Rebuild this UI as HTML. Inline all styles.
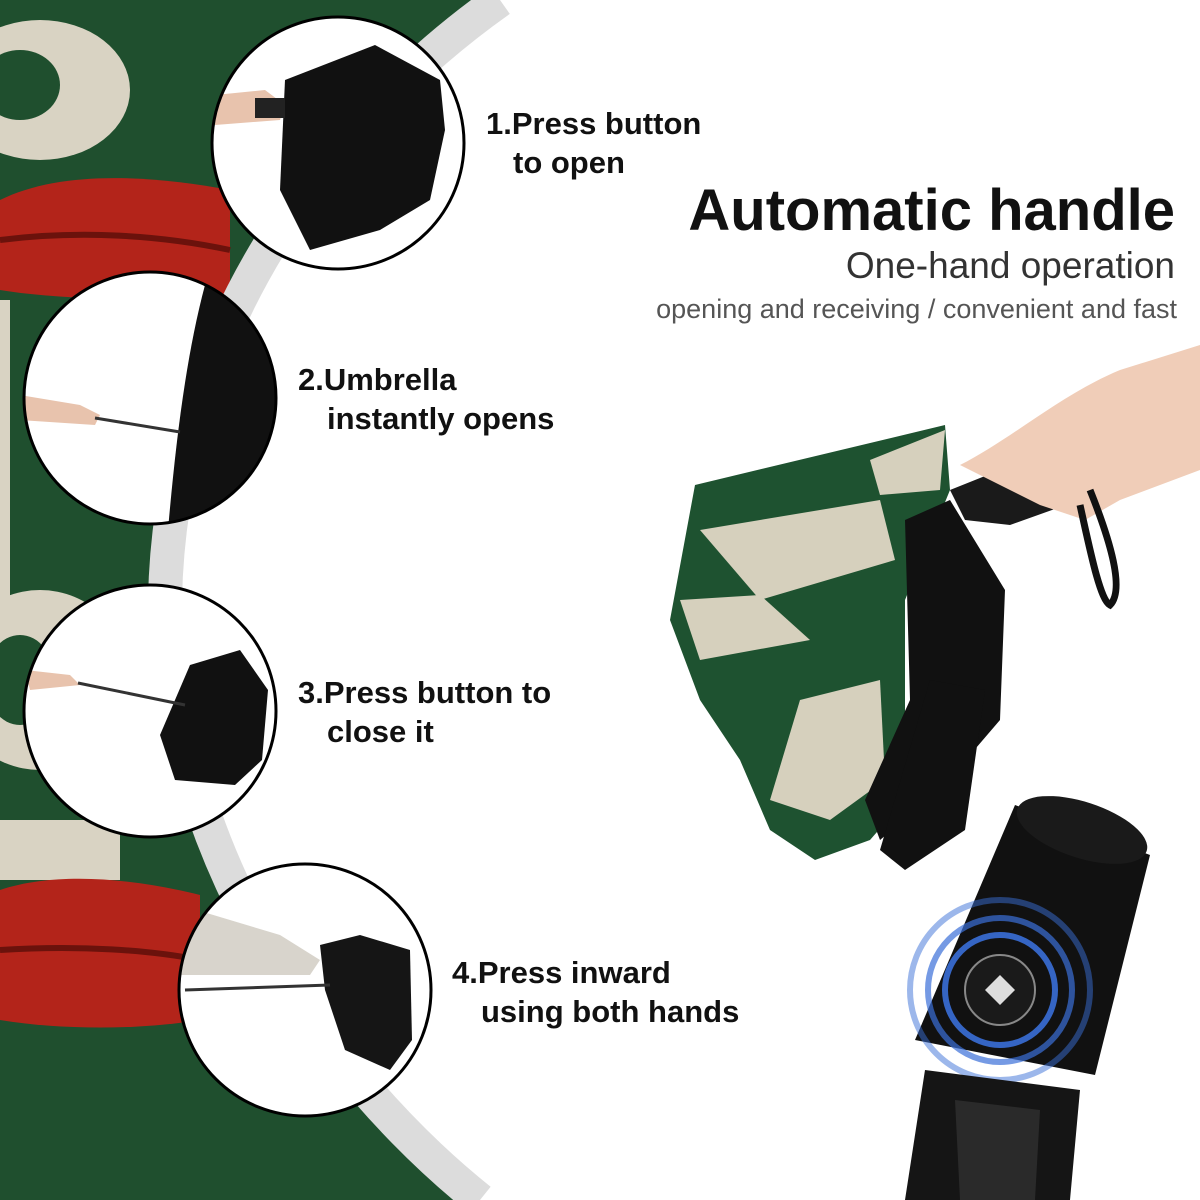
<!DOCTYPE html>
<html><head><meta charset="utf-8"><style>
html,body{margin:0;padding:0;width:1200px;height:1200px;overflow:hidden;background:#fff}
svg{display:block}
text{font-family:"Liberation Sans","DejaVu Sans",sans-serif}
</style></head><body>
<svg width="1200" height="1200" viewBox="0 0 1200 1200">
<defs>
<clipPath id="leftclip"><path d="M0,0 L500,0 C330,120 170,330 165,600 C170,860 330,1080 480,1200 L0,1200 Z"/></clipPath>
<clipPath id="c1"><circle cx="338" cy="143" r="125"/></clipPath>
<clipPath id="c2"><circle cx="150" cy="398" r="125"/></clipPath>
<clipPath id="c3"><circle cx="150" cy="711" r="125"/></clipPath>
<clipPath id="c4"><circle cx="305" cy="990" r="125"/></clipPath>
</defs>
<g clip-path="url(#leftclip)">
<rect x="0" y="0" width="520" height="1200" fill="#1f4f2e"/>
<ellipse cx="40" cy="90" rx="90" ry="70" fill="#d9d3c3"/>
<ellipse cx="20" cy="85" rx="40" ry="35" fill="#1f4f2e"/>
<path d="M0,200 C60,170 150,175 230,190 L230,300 C150,300 60,300 0,290 Z" fill="#b3241a"/>
<path d="M0,240 C80,230 160,235 230,250" stroke="#6b120c" stroke-width="6" fill="none"/>
<ellipse cx="40" cy="680" rx="90" ry="90" fill="#d9d3c3"/>
<ellipse cx="20" cy="680" rx="35" ry="45" fill="#1f4f2e"/>
<rect x="0" y="820" width="120" height="60" fill="#d9d3c3"/>
<path d="M0,890 C60,870 140,880 200,895 L200,1020 C140,1030 60,1030 0,1020 Z" fill="#b3241a"/>
<path d="M0,950 C80,945 150,950 200,960" stroke="#6b120c" stroke-width="6" fill="none"/>
<rect x="0" y="300" width="10" height="300" fill="#d9d3c3"/>
</g>
<path d="M500,0 C330,120 170,330 165,600 C170,860 330,1080 480,1200" stroke="#dcdcdc" stroke-width="34" fill="none"/>

<circle cx="338" cy="143" r="126" fill="#fff"/>
<g clip-path="url(#c1)">
<path d="M285,80 L375,45 L440,80 L445,130 L430,200 L380,230 L310,250 L280,190 Z" fill="#111"/>
<path d="M215,95 L265,90 L285,105 L280,120 L215,125 Z" fill="#e8c3ad"/>
<rect x="255" y="98" width="30" height="20" fill="#222"/>
</g>
<circle cx="338" cy="143" r="126" fill="none" stroke="#000" stroke-width="3"/>

<circle cx="150" cy="398" r="126" fill="#fff"/>
<g clip-path="url(#c2)">
<path d="M205,285 C185,360 175,450 168,530 L290,530 L290,280 Z" fill="#111"/>
<path d="M20,395 L80,405 L100,415 L95,425 L20,420 Z" fill="#e8c3ad"/>
<line x1="95" y1="418" x2="180" y2="432" stroke="#333" stroke-width="3"/>
</g>
<circle cx="150" cy="398" r="126" fill="none" stroke="#000" stroke-width="3"/>

<circle cx="150" cy="711" r="126" fill="#fff"/>
<g clip-path="url(#c3)">
<path d="M190,665 L240,650 L268,690 L262,760 L235,785 L175,780 L160,735 L175,700 Z" fill="#111"/>
<path d="M25,670 L70,675 L80,685 L30,690 Z" fill="#e8c3ad"/>
<line x1="78" y1="683" x2="185" y2="705" stroke="#333" stroke-width="3"/>
</g>
<circle cx="150" cy="711" r="126" fill="none" stroke="#000" stroke-width="3"/>

<circle cx="305" cy="990" r="126" fill="#fff"/>
<g clip-path="url(#c4)">
<path d="M180,905 L280,935 L320,960 L310,975 L180,975 Z" fill="#d8d4cc"/>
<path d="M320,945 L360,935 L410,950 L412,1040 L390,1070 L345,1050 L325,990 Z" fill="#151515"/>
<line x1="185" y1="990" x2="330" y2="985" stroke="#333" stroke-width="3"/>
</g>
<circle cx="305" cy="990" r="126" fill="none" stroke="#000" stroke-width="3"/>

<g font-weight="bold" font-size="31" fill="#111">
<text x="486" y="134">1.Press button</text><text x="513" y="173">to open</text>
<text x="298" y="390">2.Umbrella</text><text x="327" y="429">instantly opens</text>
<text x="298" y="703">3.Press button to</text><text x="327" y="742">close it</text>
<text x="452" y="983">4.Press inward</text><text x="481" y="1022">using both hands</text>
</g>
<text x="1175" y="230" text-anchor="end" font-size="58" font-weight="bold" fill="#111">Automatic  handle</text>
<text x="1175" y="278" text-anchor="end" font-size="37" fill="#333">One-hand operation</text>
<text x="1177" y="318" text-anchor="end" font-size="27" fill="#555">opening and receiving  / convenient and fast</text>

<path d="M695,485 L945,425 L950,490 L905,600 L905,800 L870,840 L815,860 L770,830 L740,760 L700,700 L670,620 Z" fill="#1e5230"/>
<path d="M700,530 L880,500 L895,560 L760,600 Z" fill="#d6d0bd"/>
<path d="M680,600 L760,595 L810,640 L700,660 Z" fill="#d6d0bd"/>
<path d="M800,700 L880,680 L885,780 L830,820 L770,800 Z" fill="#d6d0bd"/>
<path d="M870,460 L945,430 L940,490 L880,495 Z" fill="#d6d0bd"/>
<path d="M905,520 L950,500 L1005,590 L1000,720 L940,790 L880,840 L865,800 L910,700 Z" fill="#111"/>
<path d="M930,680 L985,690 L965,830 L905,870 L880,850 Z" fill="#111"/>
<path d="M950,490 L1000,470 L1075,465 L1080,500 L1010,525 L965,520 Z" fill="#1a1a1a"/>
<path d="M960,465 C1010,440 1060,395 1120,370 L1200,345 L1200,470 L1120,500 L1085,520 L1040,505 L990,480 Z" fill="#f0cdb8"/>
<path d="M1090,490 C1110,540 1125,590 1110,605 C1100,600 1090,550 1080,505" stroke="#111" stroke-width="7" fill="none"/>
<path d="M1015,805 L1150,855 L1095,1075 L915,1040 Z" fill="#111"/>
<ellipse cx="1082" cy="830" rx="68" ry="28" fill="#1a1a1a" transform="rotate(18 1082 830)"/>
<circle cx="1000" cy="990" r="90" fill="none" stroke="#3a6fd8" stroke-width="6" opacity="0.5"/>
<circle cx="1000" cy="990" r="72" fill="none" stroke="#3a6fd8" stroke-width="6" opacity="0.7"/>
<circle cx="1000" cy="990" r="55" fill="none" stroke="#3a6fd8" stroke-width="6" opacity="0.9"/>
<circle cx="1000" cy="990" r="35" fill="#1a1a1a" stroke="#888" stroke-width="2"/>
<path d="M985,990 L1000,975 L1015,990 L1000,1005 Z" fill="#ddd"/>
<path d="M925,1070 L1080,1090 L1070,1200 L905,1200 Z" fill="#151515"/>
<path d="M955,1100 L1040,1110 L1035,1200 L960,1200 Z" fill="#2a2a2a"/>
</svg>
</body></html>
